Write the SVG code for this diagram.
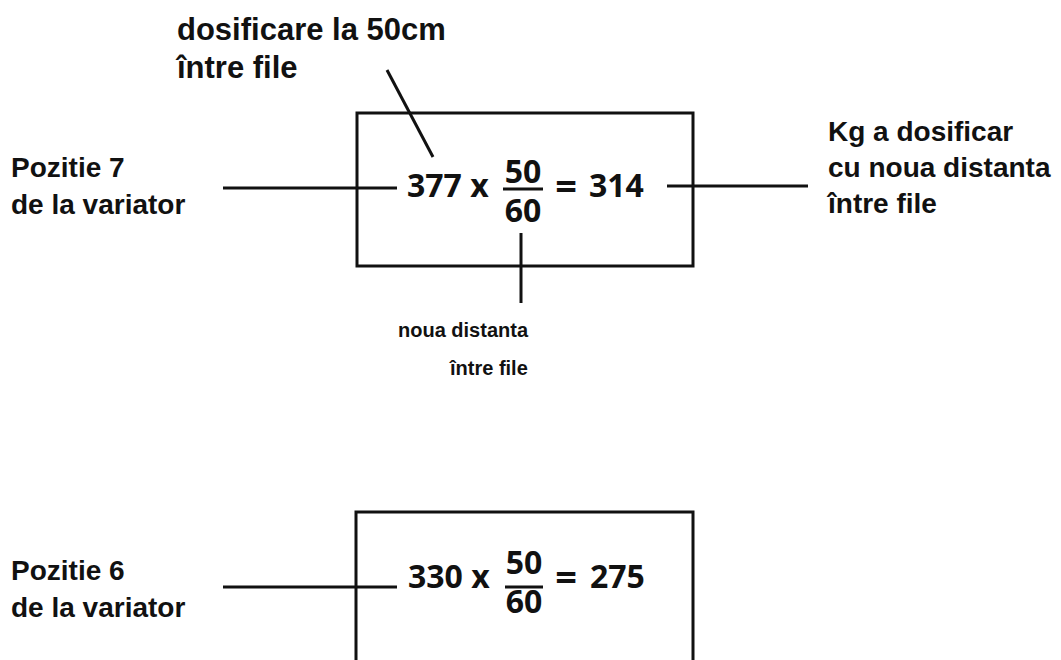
<svg xmlns="http://www.w3.org/2000/svg" width="1061" height="660" viewBox="0 0 1061 660">
<style>
.lbl{font-family:"Liberation Sans",Arial,sans-serif;font-weight:bold;fill:#111}
.eq{font-family:"Open Sans","Liberation Sans",sans-serif;font-weight:bold;font-size:32px;fill:#111}
.eqs{font-family:"Open Sans","Liberation Sans",sans-serif;font-weight:bold;font-size:38px;fill:#111}
.box{fill:none;stroke:#111;stroke-width:3}
.ln{stroke:#111;stroke-width:3;fill:none}
</style>
<rect width="1061" height="660" fill="#fff"/>
<g id="connectors">
<line class="ln" x1="223" y1="188" x2="397" y2="188"/>
<line class="ln" x1="667" y1="186" x2="808" y2="186"/>
<line class="ln" x1="521" y1="233" x2="521" y2="303"/>
<line class="ln" x1="387" y1="70" x2="433" y2="157"/>
<line class="ln" x1="223" y1="587" x2="397" y2="587"/>
</g>
<g id="box1">
<rect class="box" x="357" y="113" width="336" height="153"/>
<text class="eq" x="407" y="197">377 x</text>
<text class="eq" x="523" y="183" text-anchor="middle">50</text>
<line class="ln" x1="503" y1="189" x2="543" y2="189" stroke-width="2.5"/>
<text class="eq" x="523" y="222" text-anchor="middle">60</text>
<text class="eqs" x="566" y="200" text-anchor="middle">=</text>
<text class="eq" x="589" y="197">314</text>
</g>
<g id="box2">
<rect class="box" x="356" y="512" width="337" height="160"/>
<text class="eq" x="408" y="588">330 x</text>
<text class="eq" x="524" y="574" text-anchor="middle">50</text>
<line class="ln" x1="505" y1="587" x2="543" y2="587" stroke-width="2.5"/>
<text class="eq" x="524" y="613" text-anchor="middle">60</text>
<text class="eqs" x="566" y="591" text-anchor="middle">=</text>
<text class="eq" x="590" y="588">275</text>
</g>
<g id="label-top">
<text class="lbl" font-size="31" x="177" y="40">dosificare la 50cm</text>
<text class="lbl" font-size="31" x="177" y="78">între file</text>
</g>
<g id="label-poz7">
<text class="lbl" font-size="28" x="11" y="177">Pozitie 7</text>
<text class="lbl" font-size="28" x="11" y="214">de la variator</text>
</g>
<g id="label-kg">
<text class="lbl" font-size="28" x="828" y="141">Kg a dosificar</text>
<text class="lbl" font-size="28" x="828" y="177">cu noua distanta</text>
<text class="lbl" font-size="28" x="828" y="213">între file</text>
</g>
<g id="label-noua">
<text class="lbl" font-size="20" x="398" y="337">noua distanta</text>
<text class="lbl" font-size="20" x="450" y="375">între file</text>
</g>
<g id="label-poz6">
<text class="lbl" font-size="28" x="11" y="580">Pozitie 6</text>
<text class="lbl" font-size="28" x="11" y="617">de la variator</text>
</g>
</svg>
